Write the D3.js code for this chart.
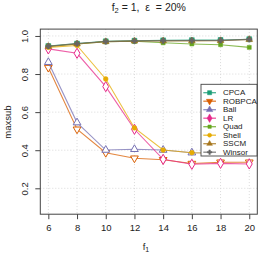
<!DOCTYPE html>
<html>
<head>
<meta charset="utf-8">
<script src="https://cdn.jsdelivr.net/npm/d3@7"></script>
<style>
  body { margin: 0; background: #fff; }
  svg text { font-family: "Liberation Sans", Arial, sans-serif; fill: #222; }
</style>
</head>
<body>
<svg id="chart" width="258" height="255"></svg>
<script>
// f1 values on the x axis
const f1 = [6, 8, 10, 12, 14, 16, 18, 20];

// maxsub per method
const cpca   = [0.947, 0.960, 0.972, 0.975, 0.977, 0.978, 0.979, 0.983];
const robpca = [0.834, 0.510, 0.387, 0.358, 0.350, 0.330, 0.337, 0.337];
const ball   = [0.862, 0.545, 0.401, 0.405, 0.401, 0.387, 0.385, 0.385];
const lr     = [0.932, 0.909, 0.734, 0.510, 0.352, 0.326, 0.331, 0.328];
const quad   = [0.945, 0.958, 0.970, 0.972, 0.964, 0.958, 0.954, 0.940];
const shell  = [0.940, 0.950, 0.774, 0.517, 0.401, 0.387, 0.385, 0.385];
const sscm   = [0.945, 0.958, 0.970, 0.973, 0.974, 0.974, 0.975, 0.981];
const winsor = [0.946, 0.960, 0.971, 0.974, 0.975, 0.976, 0.977, 0.982];

const names = ["CPCA", "ROBPCA", "Ball", "LR", "Quad", "Shell", "SSCM", "Winsor"];
const xTicks = [6, 8, 10, 12, 14, 16, 18, 20];
const yTicks = [0.2, 0.4, 0.6, 0.8, 1.0];

const colors = ["#1b9e77", "#d95f02", "#7570b3", "#e7298a", "#66a61e", "#e6ab02", "#a6761d", "#666666"];

const series = [
  { name: names[0], vals: cpca,   shape: "square",   open: false, size: 24 },
  { name: names[1], vals: robpca, shape: "down",     open: true,  size: 26 },
  { name: names[2], vals: ball,   shape: "triangle", open: true,  size: 26 },
  { name: names[3], vals: lr,     shape: "diamond",  open: true,  size: 30 },
  { name: names[4], vals: quad,   shape: "square",   open: false, size: 16 },
  { name: names[5], vals: shell,  shape: "circle",   open: false, size: 18 },
  { name: names[6], vals: sscm,   shape: "triangle", open: false, size: 20 },
  { name: names[7], vals: winsor, shape: "cross",    open: false, size: 16 }
];

const svg = d3.select("#chart");

const x = d3.scaleLinear().domain([5.44, 20.56]).range([40.3, 257.3]);
const y = d3.scaleLinear().domain([0.064, 1.036]).range([214.2, 29.1]);

function symbolPath(shape, size) {
  const map = {
    square: d3.symbolSquare,
    triangle: d3.symbolTriangle,
    down: d3.symbolTriangle,
    diamond: d3.symbolDiamond,
    circle: d3.symbolCircle,
    cross: d3.symbolCross
  };
  return d3.symbol().type(map[shape]).size(size)();
}

// grid
const grid = svg.append("g");
grid.selectAll("line.gx").data(xTicks).join("line")
  .attr("x1", d => x(d)).attr("x2", d => x(d))
  .attr("y1", y.range()[1]).attr("y2", y.range()[0])
  .attr("stroke", "#d9d9d9").attr("stroke-dasharray", "1,2");
grid.selectAll("line.gy").data(yTicks).join("line")
  .attr("x1", x.range()[0]).attr("x2", x.range()[1])
  .attr("y1", d => y(d)).attr("y2", d => y(d))
  .attr("stroke", "#d9d9d9").attr("stroke-dasharray", "1,2");

// series
const line = d3.line().x(d => x(d[0])).y(d => y(d[1]));
series.forEach((s, i) => {
  const pts = f1.map((v, j) => [v, s.vals[j]]);
  svg.append("path").datum(pts)
    .attr("d", line)
    .attr("fill", "none")
    .attr("stroke", colors[i])
    .attr("stroke-opacity", 0.75)
    .attr("stroke-width", 1.1);
  svg.append("g").selectAll("path").data(pts).join("path")
    .attr("transform", d => `translate(${x(d[0])},${y(d[1])})` + (s.shape === "down" ? " rotate(180)" : ""))
    .attr("d", symbolPath(s.shape, s.size))
    .attr("fill", s.open ? "#fff" : colors[i])
    .attr("stroke", colors[i])
    .attr("stroke-width", s.open ? 1 : (s.shape === "cross" ? 0.6 : 0.5));
});

// axes
const xAxis = svg.append("g").attr("transform", "translate(0,214.2)")
  .call(d3.axisBottom(x).tickValues(xTicks).tickSize(5).tickPadding(5).tickFormat(d3.format("d")));
xAxis.select(".domain").remove();
xAxis.selectAll("text").attr("font-size", 9.5).attr("fill", "#222");
xAxis.selectAll("line").attr("stroke", "#444");

const yAxis = svg.append("g").attr("transform", "translate(40.3,0)")
  .call(d3.axisLeft(y).tickValues(yTicks).tickSize(5).tickFormat(d3.format(".1f")));
yAxis.select(".domain").remove();
yAxis.selectAll("line").attr("stroke", "#444");
yAxis.selectAll("text")
  .attr("font-size", 9.5).attr("fill", "#222")
  .attr("text-anchor", "middle")
  .attr("x", 0).attr("dy", 0)
  .attr("transform", "translate(-12,0) rotate(-90)");

// box
svg.append("rect")
  .attr("x", x.range()[0]).attr("y", y.range()[1])
  .attr("width", x.range()[1] - x.range()[0])
  .attr("height", y.range()[0] - y.range()[1])
  .attr("fill", "none").attr("stroke", "#444").attr("stroke-width", 1);

// legend
const lg = svg.append("g").attr("transform", "translate(201,84.3)");
lg.append("rect").attr("width", 56).attr("height", 71.7)
  .attr("fill", "#fff").attr("stroke", "#444").attr("stroke-width", 0.9);
series.forEach((s, i) => {
  const yy = 8.4 + i * 8.5;
  lg.append("line").attr("x1", 2.3).attr("x2", 15).attr("y1", yy).attr("y2", yy)
    .attr("stroke", colors[i]).attr("stroke-opacity", 0.8).attr("stroke-width", 1.3);
  lg.append("path")
    .attr("transform", `translate(8.6,${yy})` + (s.shape === "down" ? " rotate(180)" : ""))
    .attr("d", symbolPath(s.shape, s.size * 0.7))
    .attr("fill", colors[i]).attr("stroke", colors[i]).attr("stroke-width", 0.5);
  lg.append("text").attr("x", 22).attr("y", yy).attr("dy", "0.35em")
    .attr("font-size", 8).text(s.name);
});

// titles
svg.append("text").attr("x", 148.8).attr("y", 11).attr("text-anchor", "middle")
  .attr("font-size", 10.5)
  .attr("xml:space", "preserve")
  .html('f<tspan font-size="7.5" dy="2">2</tspan><tspan dy="-2"> = 1,  ε  = 20%</tspan>');

svg.append("text").attr("x", 146).attr("y", 250).attr("text-anchor", "middle")
  .attr("font-size", 9.5)
  .html('f<tspan font-size="7" dy="2">1</tspan>');

svg.append("text").attr("transform", "translate(11,122) rotate(-90)")
  .attr("text-anchor", "middle").attr("font-size", 9.5).text("maxsub");
</script>
</body>
</html>
